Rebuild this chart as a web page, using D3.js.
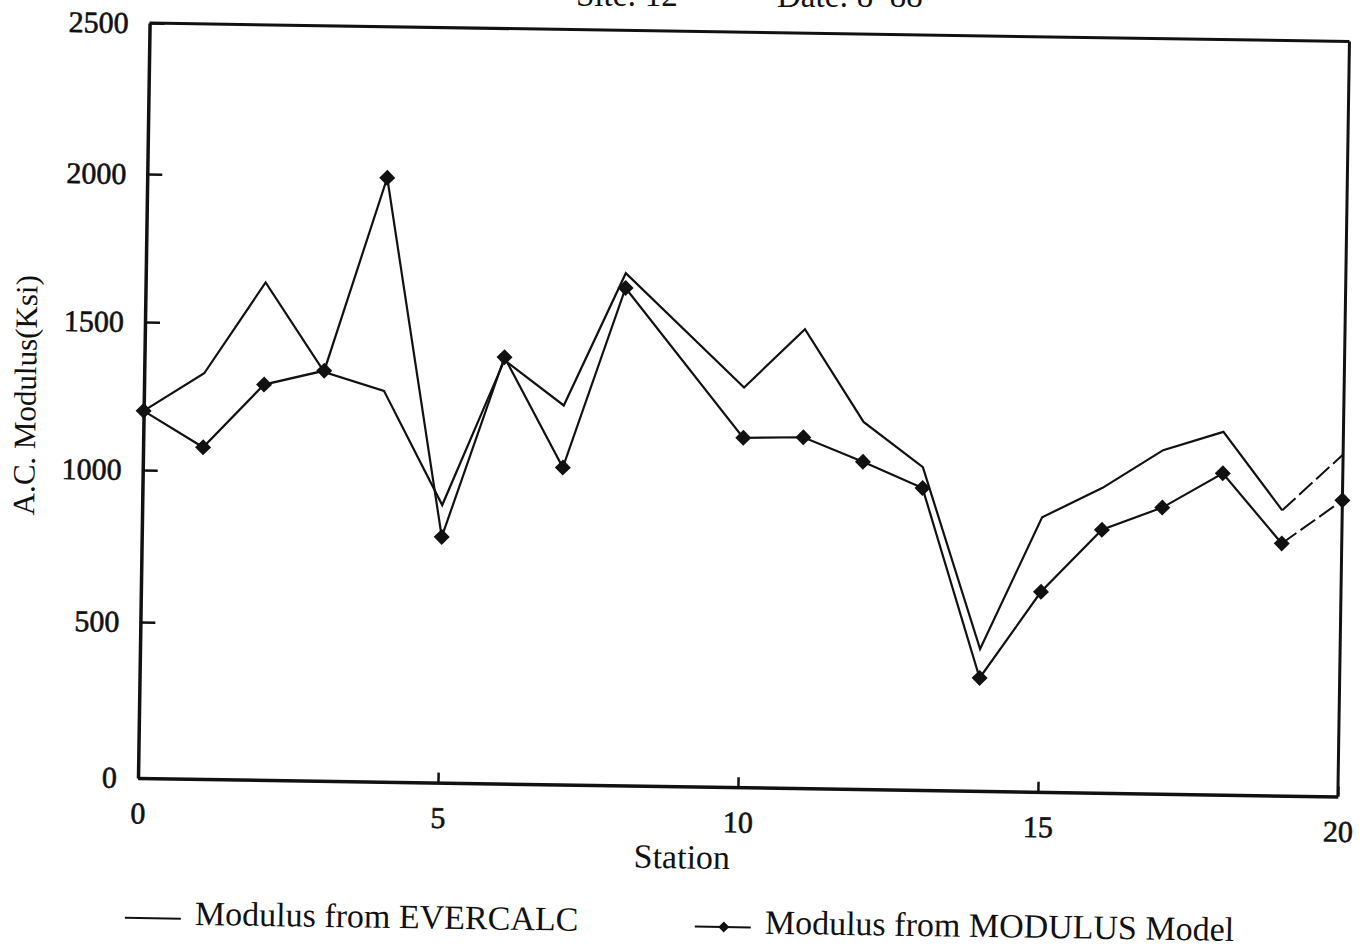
<!DOCTYPE html>
<html>
<head>
<meta charset="utf-8">
<script src="https://cdn.jsdelivr.net/npm/d3@7"></script>
<style>
    body { margin: 0; background: #fff; }
    text { font-family: "Liberation Serif", "Times New Roman", serif; fill: #111; }
</style>
</head>
<body>
<svg id="chart"></svg>
<script>
// values (station 9 has no point in either series)
var stations = [0, 1, 2, 3, 4, 5, 6, 7, 8, 9, 10, 11, 12, 13, 14, 15, 16, 17, 18, 19, 20];
var evercalc = [1200, 1330, 1640, 1340, 1280, 900, 1390, 1240, 1690, null, 1310, 1510, 1200, 1050, 455, 890, 990, 1120, 1185, 925, 1115];
var modulusModel = [1200, 1080, 1295, 1345, 2000, 795, 1400, 1030, 1640, null, 1140, 1145, 1065, 980, 362, 645, 852, 928, 1045, 816, 961];
var xTicks = [0, 5, 10, 15, 20];
var yTicks = [0, 500, 1000, 1500, 2000, 2500];
var legendLabels = ["Modulus from EVERCALC", "Modulus from MODULUS Model"];

var dimensions = {
    width: 1366,
    height: 949,
    origin: { x: 138, y: 778 },   // bottom-left corner of the frame
    plotWidth: 1200,
    plotHeight: 755,
    tilt: 0.88                    // the scan is slightly rotated
};

var svg = d3.select("#chart")
    .attr("width", dimensions.width)
    .attr("height", dimensions.height);

svg.append("rect")
    .attr("width", dimensions.width)
    .attr("height", dimensions.height)
    .attr("fill", "#fff");

// title, cut off at the top of the page like in the scan
svg.append("text").attr("x", 576).attr("y", 6).style("font-size", "33px").text("Site: 12");
svg.append("text").attr("x", 777).attr("y", 7).style("font-size", "33px").text("Date: 8\u201388");

var plot = svg.append("g")
    .attr("transform", `translate(${dimensions.origin.x},${dimensions.origin.y}) rotate(${dimensions.tilt})`);

var xScale = d3.scaleLinear()
    .domain([0, 20])
    .range([0, dimensions.plotWidth]);

// tick spacing in the scan is a little uneven, so the scale follows the printed ticks
var yScale = d3.scaleLinear()
    .domain(yTicks)
    .range([0, -156, -308, -456, -604, -dimensions.plotHeight]);

// frame top + right
plot.append("line")
    .attr("x1", 0).attr("x2", dimensions.plotWidth)
    .attr("y1", -dimensions.plotHeight).attr("y2", -dimensions.plotHeight)
    .attr("stroke", "#111").attr("stroke-width", 3);
plot.append("line")
    .attr("x1", dimensions.plotWidth).attr("x2", dimensions.plotWidth)
    .attr("y1", -dimensions.plotHeight).attr("y2", 0)
    .attr("stroke", "#111").attr("stroke-width", 3);

var yAxis = plot.append("g")
    .call(d3.axisLeft(yScale).tickValues(yTicks).tickFormat(d3.format("d"))
        .tickSizeInner(-15).tickSizeOuter(0).tickPadding(21));
var xAxis = plot.append("g")
    .call(d3.axisBottom(xScale).tickValues(xTicks).tickFormat(d3.format("d"))
        .tickSizeInner(-10).tickSizeOuter(0).tickPadding(24));

[yAxis, xAxis].forEach(ax => {
    ax.attr("font-family", null).attr("font-size", null);
    ax.select(".domain").attr("stroke", "#111").attr("stroke-width", 3.5);
    ax.selectAll(".tick line").attr("stroke", "#111").attr("stroke-width", 2.5);
    ax.selectAll(".tick text")
        .style("font-size", "30px")
        .attr("fill", "#111")
        .attr("stroke", "#111")
        .attr("stroke-width", 0.6);
});

plot.append("text")
    .attr("transform", "translate(-119,-381) rotate(-90)")
    .attr("dy", "0.35em")
    .style("text-anchor", "middle")
    .style("font-size", "31px")
    .text("A.C. Modulus(Ksi)");

plot.append("text")
    .attr("x", 545).attr("y", 82)
    .style("text-anchor", "middle")
    .style("font-size", "34px")
    .text("Station");

var line = d3.line()
    .x(d => xScale(d.station))
    .y(d => yScale(d.value));

function toPoints(values) {
    return stations.map((s, i) => ({ station: s, value: values[i] }))
        .filter(d => d.value !== null);
}

var diamond = d3.symbol().type(d3.symbolSquare).size(128);

[evercalc, modulusModel].forEach((values, index) => {
    var points = toPoints(values);
    var n = points.length;

    plot.append("path")
        .datum(points.slice(0, n - 1))
        .attr("d", line)
        .attr("fill", "none")
        .attr("stroke", "#111")
        .attr("stroke-width", 2.2)
        .attr("stroke-linejoin", "miter");

    // last segment is broken up in the scan
    plot.append("path")
        .datum(points.slice(n - 2))
        .attr("d", line)
        .attr("fill", "none")
        .attr("stroke", "#111")
        .attr("stroke-width", 2)
        .attr("stroke-dasharray", "18,5");

    if (index === 1) {
        plot.selectAll(".marker")
            .data(points)
            .enter()
            .append("path")
            .attr("class", "marker")
            .attr("d", diamond)
            .attr("transform", d => `translate(${xScale(d.station)},${yScale(d.value)}) rotate(45)`)
            .attr("fill", "#111");
    }
});

// legend
var legend = plot.selectAll(".legend")
    .data(legendLabels)
    .enter()
    .append("g")
    .attr("class", "legend")
    .attr("transform", (d, i) => `translate(${i === 0 ? -11 : 559},140)`);

legend.append("line")
    .attr("x1", 0).attr("x2", 56)
    .attr("stroke", "#111").attr("stroke-width", 2);

legend.filter((d, i) => i === 1)
    .append("path")
    .attr("d", d3.symbol().type(d3.symbolSquare).size(60))
    .attr("transform", "translate(29,0) rotate(45)")
    .attr("fill", "#111");

legend.append("text")
    .attr("x", 70)
    .attr("y", 6)
    .style("font-size", "34px")
    .text(d => d);
</script>
</body>
</html>
